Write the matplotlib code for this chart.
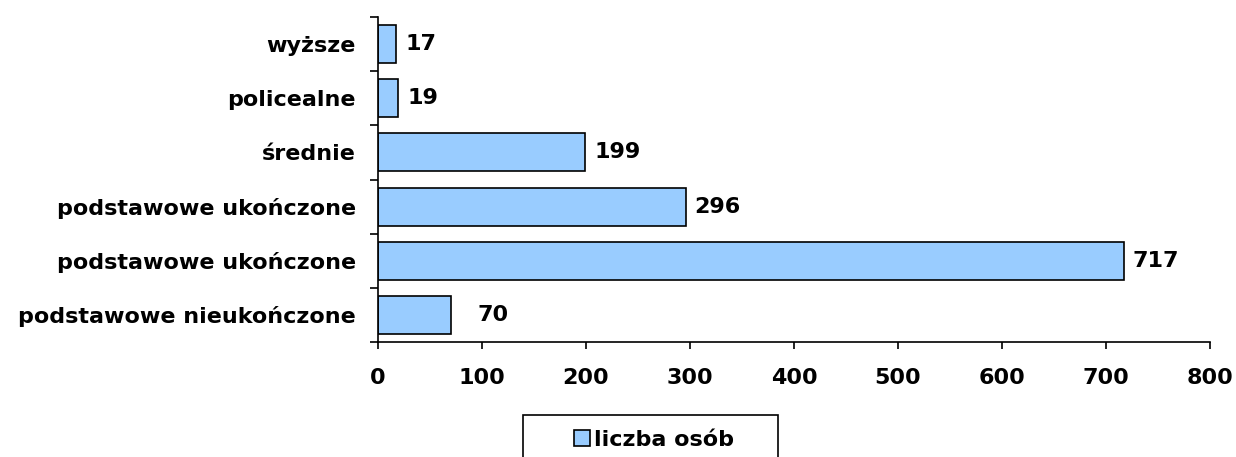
import matplotlib.pyplot as plt
from matplotlib.patches import Rectangle

# Data (bottom to top)
categories = ['podstawowe nieukończone', 'podstawowe ukończone', 'podstawowe ukończone',
              'średnie', 'policealne', 'wyższe']
values = [70, 717, 296, 199, 19, 17]
series_name = 'liczba osób'
label_pad = [19, 6, 6, 7, 7, 7]

plt.rcParams['font.family'] = 'DejaVu Sans'
plt.rcParams['font.weight'] = 'bold'
fs = 16

fig = plt.figure(figsize=(12.36, 4.57), dpi=100)
ax = fig.add_axes([378 / 1236, 1 - 342 / 457, (1210 - 378) / 1236, (342 - 17) / 457])

pos = list(range(len(categories)))
bars = ax.barh(pos, values, height=0.7, color='#99CCFF', edgecolor='black',
               linewidth=1.2, label=series_name)

for b, v, p in zip(bars, values, label_pad):
    ax.annotate(str(v), (b.get_width(), b.get_y() + b.get_height() / 2),
                xytext=(p, 0), textcoords='offset points', va='center', ha='left',
                fontsize=fs, fontweight='bold')

ax.set_xlim(0, 800)
ax.set_ylim(-0.5, len(categories) - 0.5)
ax.set_xticks(range(0, 801, 100))
ax.set_yticks(pos)
ax.set_yticklabels(categories)
ax.set_yticks([p - 0.5 for p in pos] + [len(categories) - 0.5], minor=True)

ax.tick_params(axis='y', which='major', length=0, pad=16, labelsize=fs)
ax.tick_params(axis='y', which='minor', length=6, width=1.2, direction='out')
ax.tick_params(axis='x', length=5, width=1.2, direction='out', pad=14, labelsize=fs)
for lab in ax.get_xticklabels() + ax.get_yticklabels():
    lab.set_fontweight('bold')

ax.spines['top'].set_visible(False)
ax.spines['right'].set_visible(False)
ax.spines['left'].set_linewidth(1.2)
ax.spines['bottom'].set_linewidth(1.2)

# Legend box (partly cut off at the bottom, like the original)
fig.patches.append(Rectangle((523 / 1236, -0.05), (778 - 523) / 1236, (457 - 415) / 457 + 0.05,
                             transform=fig.transFigure, fill=False, edgecolor='black',
                             linewidth=1.2))
fig.legend(handles=[bars], labels=[series_name], loc='center', frameon=False,
           bbox_to_anchor=(654 / 1236, 1 - 440 / 457),
           handlelength=0.7, handleheight=0.7, handletextpad=0.2,
           prop={'weight': 'bold', 'size': fs})

fig.savefig('out.png', dpi=100)
